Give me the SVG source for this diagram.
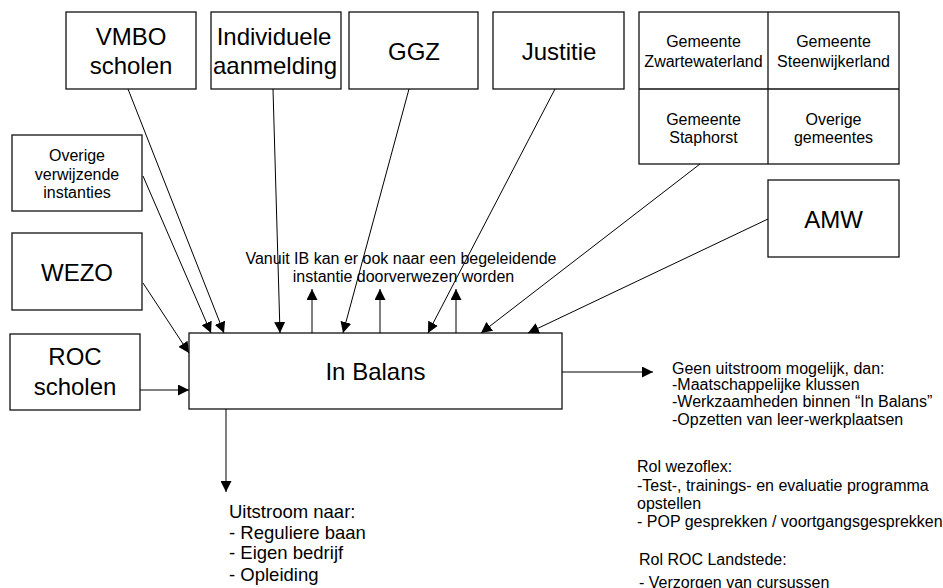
<svg xmlns="http://www.w3.org/2000/svg" width="943" height="588" viewBox="0 0 943 588">
<defs>
<style>
.box{fill:#fff;stroke:#111;stroke-width:1.3}
.t{font-family:"Liberation Sans",Arial,sans-serif;fill:#000}
.big{font-size:24px;text-anchor:middle}
.sm{font-size:16px;text-anchor:middle}
.txt{font-size:16px}
.txl{font-size:18.5px}
.c line{stroke:#000;stroke-width:1;marker-end:url(#ah)}
</style>
<marker id="ah" markerUnits="userSpaceOnUse" markerWidth="11" markerHeight="11" refX="10" refY="5" orient="auto" viewBox="0 0 10 10">
<path d="M0,0 L10,5 L0,10 z" fill="#000"/>
</marker>
</defs>
<rect width="943" height="588" fill="#fff"/>

<g id="vmbo"><rect class="box" x="66" y="12" width="130" height="77"/><text class="t big" x="131" y="45">VMBO</text><text class="t big" x="131" y="74">scholen</text></g>
<g id="individuele"><rect class="box" x="211" y="12" width="130" height="77"/><text class="t big" x="274" y="45">Individuele</text><text class="t big" x="275" y="74">aanmelding</text></g>
<g id="ggz"><rect class="box" x="349" y="12" width="129" height="77"/><text class="t big" x="414" y="60">GGZ</text></g>
<g id="justitie"><rect class="box" x="493" y="12" width="131" height="77"/><text class="t big" x="559" y="60">Justitie</text></g>
<g id="gemeentes">
<rect class="box" x="639" y="12" width="260" height="152"/>
<line x1="768" y1="12" x2="768" y2="164" stroke="#111" stroke-width="1.3"/>
<line x1="639" y1="89" x2="899" y2="89" stroke="#111" stroke-width="1.3"/>
<text class="t sm" x="703.5" y="47">Gemeente</text><text class="t sm" x="703.5" y="67">Zwartewaterland</text>
<text class="t sm" x="833.5" y="47">Gemeente</text><text class="t sm" x="833.5" y="67">Steenwijkerland</text>
<text class="t sm" x="703.5" y="125">Gemeente</text><text class="t sm" x="703.5" y="143">Staphorst</text>
<text class="t sm" x="833.5" y="125">Overige</text><text class="t sm" x="833.5" y="143">gemeentes</text>
</g>
<g id="amw"><rect class="box" x="768" y="180" width="131" height="77"/><text class="t big" x="833.5" y="228">AMW</text></g>
<g id="overige"><rect class="box" x="12" y="135" width="130" height="76"/><text class="t sm" x="77" y="161">Overige</text><text class="t sm" x="77" y="180">verwijzende</text><text class="t sm" x="77" y="198">instanties</text></g>
<g id="wezo"><rect class="box" x="12" y="233" width="130" height="77"/><text class="t big" x="77" y="281">WEZO</text></g>
<g id="roc"><rect class="box" x="10" y="334" width="130" height="76"/><text class="t big" x="75" y="365">ROC</text><text class="t big" x="75" y="395">scholen</text></g>
<g id="inbalans"><rect class="box" x="189" y="333" width="373" height="76"/><text class="t big" x="375.5" y="380">In Balans</text></g>

<g id="label-doorverwijzen"><text class="t sm" x="401" y="264">Vanuit IB kan er ook naar een begeleidende</text><text class="t sm" x="403.5" y="282">instantie doorverwezen worden</text></g>

<g id="connectors" class="c">
<line x1="143" y1="176" x2="211" y2="333"/>
<line x1="128" y1="89" x2="224" y2="333"/>
<line x1="273" y1="89" x2="280" y2="333"/>
<line x1="409" y1="89" x2="343" y2="333"/>
<line x1="555" y1="89" x2="428" y2="333"/>
<line x1="700" y1="164" x2="481" y2="333"/>
<line x1="768" y1="219" x2="528" y2="333"/>
<line x1="143" y1="283" x2="189" y2="353"/>
<line x1="140" y1="390" x2="189" y2="390"/>
<line x1="312" y1="333" x2="312" y2="289"/>
<line x1="380" y1="333" x2="380" y2="289"/>
<line x1="456" y1="333" x2="456" y2="289"/>
<line x1="562" y1="372" x2="653" y2="372"/>
<line x1="226" y1="409" x2="226" y2="492"/>
</g>

<g id="uitstroom"><text class="t txl" x="229" y="518">Uitstroom naar:</text><text class="t txl" x="229" y="539">- Reguliere baan</text><text class="t txl" x="229" y="559">- Eigen bedrijf</text><text class="t txl" x="229" y="581">- Opleiding</text></g>
<g id="geen-uitstroom"><text class="t txt" x="672" y="374">Geen uitstroom mogelijk, dan:</text><text class="t txt" x="672" y="390">-Maatschappelijke klussen</text><text class="t txt" x="672" y="407">-Werkzaamheden binnen “In Balans”</text><text class="t txt" x="672" y="425">-Opzetten van leer-werkplaatsen</text></g>
<g id="rol-wezoflex"><text class="t txt" x="637" y="472">Rol wezoflex:</text><text class="t txt" x="637" y="491">-Test-, trainings- en evaluatie programma</text><text class="t txt" x="637" y="509">opstellen</text><text class="t txt" x="637" y="527">- POP gesprekken / voortgangsgesprekken</text></g>
<g id="rol-roc"><text class="t txt" x="639" y="565">Rol ROC Landstede:</text><text class="t txt" x="639" y="588">- Verzorgen van cursussen</text></g>
</svg>
